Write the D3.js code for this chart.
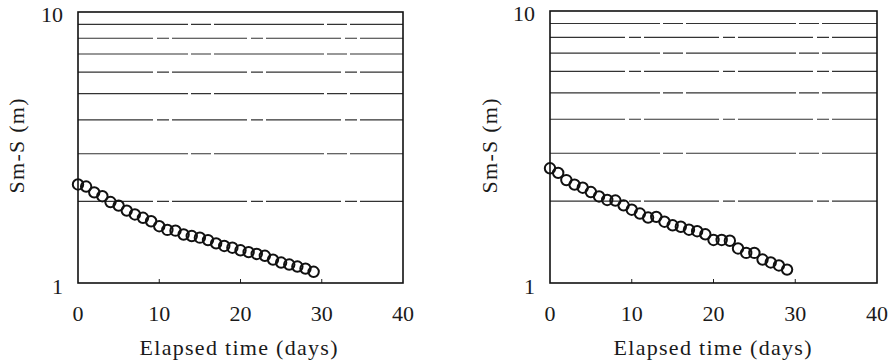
<!DOCTYPE html>
<html>
<head>
<meta charset="utf-8">
<script src="https://cdn.jsdelivr.net/npm/d3@7/dist/d3.min.js"></script>
<style>
  html, body { margin: 0; padding: 0; background: #fff; }
  svg { display: block; }
  text { font-family: "Liberation Serif", "DejaVu Serif", serif; fill: #1a1a1a; }
</style>
</head>
<body>
<svg id="chart" width="893" height="364"></svg>
<script>
// Elapsed time, days
const days = [0, 1, 2, 3, 4, 5, 6, 7, 8, 9, 10, 11, 12, 13, 14, 15, 16, 17, 18, 19,
              20, 21, 22, 23, 24, 25, 26, 27, 28, 29];

// Sm-S (m), left well
const drawdownA = [2.31, 2.27, 2.16, 2.09, 1.99, 1.93, 1.85, 1.79, 1.74, 1.69,
                   1.62, 1.57, 1.56, 1.51, 1.49, 1.47, 1.44, 1.40, 1.37, 1.35,
                   1.32, 1.30, 1.28, 1.26, 1.22, 1.19, 1.17, 1.15, 1.13, 1.10];

// Sm-S (m), right well
const drawdownB = [2.64, 2.54, 2.39, 2.30, 2.24, 2.16, 2.08, 2.02, 2.01, 1.93,
                   1.86, 1.80, 1.74, 1.75, 1.68, 1.63, 1.61, 1.57, 1.55, 1.51,
                   1.44, 1.44, 1.43, 1.34, 1.29, 1.29, 1.22, 1.19, 1.16, 1.12];

const xTicks = [0, 10, 20, 30, 40];
const yTicks = [1, 10];
const yGrid = [2, 3, 4, 5, 6, 7, 8, 9];
const xLabel = "Elapsed time (days)";
const yLabel = "Sm-S (m)";

const svg = d3.select("#chart");

function panel(frame, values) {
  const g = svg.append("g");
  const x = d3.scaleLinear().domain([0, 40]).range([frame.left, frame.right]);
  const y = d3.scaleLog().domain([1, 10]).range([frame.bottom, frame.top]);

  // horizontal grid at 2..9
  g.append("g").selectAll("line").data(yGrid).join("line")
    .attr("x1", x(0)).attr("x2", x(40))
    .attr("y1", d => y(d)).attr("y2", d => y(d))
    .attr("stroke", "#333")
    .attr("stroke-width", 1.1)
    .attr("stroke-dasharray", (d, i) => i % 2 ? "110,3,20,3" : "75,4,12,3");

  // inner ticks on the time axis
  g.append("g").selectAll("line").data(xTicks.slice(1, -1)).join("line")
    .attr("x1", d => x(d)).attr("x2", d => x(d))
    .attr("y1", y(1)).attr("y2", y(1) - 4)
    .attr("stroke", "#222").attr("stroke-width", 1);

  // frame
  g.append("rect")
    .attr("x", x(0)).attr("y", y(10))
    .attr("width", x(40) - x(0)).attr("height", y(1) - y(10))
    .attr("fill", "none").attr("stroke", "#111").attr("stroke-width", 1.6);

  // time axis labels
  g.append("g").selectAll("text").data(xTicks).join("text")
    .attr("x", d => x(d)).attr("y", frame.bottom + 38)
    .attr("text-anchor", "middle")
    .attr("font-size", 22)
    .text(d => d);

  // drawdown axis labels
  g.append("g").selectAll("text").data(yTicks).join("text")
    .attr("x", x(0) - 15).attr("y", d => y(d) + (d === 10 ? 10 : 11))
    .attr("text-anchor", "end")
    .attr("font-size", 22)
    .text(d => d);

  // axis titles
  g.append("text")
    .attr("x", (x(0) + x(40)) / 2 + frame.titleShift).attr("y", frame.bottom + 72)
    .attr("text-anchor", "middle")
    .attr("font-size", 22)
    .attr("textLength", 198).attr("lengthAdjust", "spacing")
    .text(xLabel);

  g.append("text")
    .attr("transform", `translate(${frame.yTitleX},146) rotate(-90)`)
    .attr("text-anchor", "middle")
    .attr("font-size", 22)
    .attr("textLength", 95).attr("lengthAdjust", "spacing")
    .text(yLabel);

  // observations
  g.append("g").selectAll("circle").data(days).join("circle")
    .attr("cx", (d) => x(d))
    .attr("cy", (d, i) => y(values[i]))
    .attr("r", 5.2)
    .attr("fill", "none")
    .attr("stroke", "#111")
    .attr("stroke-width", 2);
}

panel({ left: 78, right: 403, top: 12, bottom: 283, titleShift: -2, yTitleX: 24 }, drawdownA);
panel({ left: 550, right: 877, top: 11, bottom: 283, titleShift: -1, yTitleX: 497 }, drawdownB);
</script>
</body>
</html>
